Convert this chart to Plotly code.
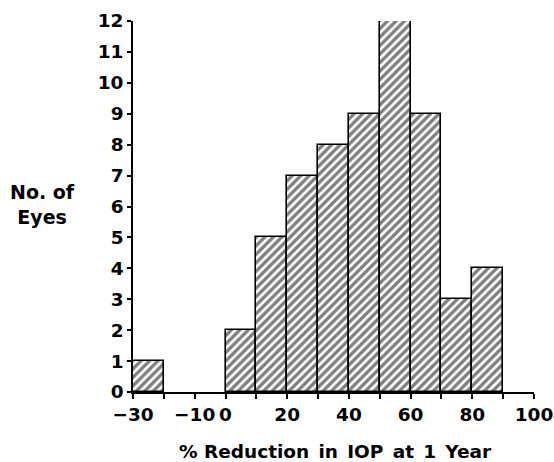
import plotly.graph_objects as go

bin_left = [-30, -20, -10, 0, 10, 20, 30, 40, 50, 60, 70, 80]
counts = [1, 0, 0, 2, 5, 7, 8, 9, 12, 9, 3, 4]
bin_width = 10
x_tick_vals = [-30, -20, -10, 0, 10, 20, 30, 40, 50, 60, 70, 80, 90, 100]
x_tick_text = ["\u221230", "", "\u221210", "0", "", "20", "", "40", "", "60", "", "80", "", "100"]
y_tick_vals = list(range(0, 13))
x_title = "% Reduction\u2002in\u2002IOP\u2002at\u20021\u2002Year"
y_title = "No. of<br>Eyes"

keep = [(b + bin_width / 2, c) for b, c in zip(bin_left, counts) if c > 0]

FONT = "DejaVu Sans"

fig = go.Figure()
fig.add_trace(go.Bar(
    x=[k[0] for k in keep],
    y=[k[1] for k in keep],
    width=bin_width,
    cliponaxis=False,
    marker=dict(
        color="white",
        line=dict(color="black", width=1.6),
        pattern=dict(shape="/", size=6, solidity=0.55, fgcolor="black", bgcolor="white"),
    ),
    showlegend=False,
))

fig.update_layout(
    width=554, height=462,
    margin=dict(l=133, r=20, t=21, b=70),
    paper_bgcolor="white", plot_bgcolor="white",
    bargap=0,
    font=dict(family=FONT, color="black", size=18.5),
    xaxis=dict(
        range=[-30, 100], tickvals=x_tick_vals, ticktext=x_tick_text,
        ticks="outside", ticklen=5, tickwidth=1.5, tickcolor="black",
        showline=True, linecolor="black", linewidth=1.6,
        showgrid=False, zeroline=False, automargin=False,
        tickfont=dict(family=FONT, size=18.5, color="black", weight="bold"),
    ),
    yaxis=dict(
        range=[0, 12], tickvals=y_tick_vals,
        ticks="outside", ticklen=4, tickwidth=1.5, tickcolor="black",
        showline=True, linecolor="black", linewidth=1.6,
        showgrid=False, zeroline=False, automargin=False,
        tickfont=dict(family=FONT, size=18.5, color="black", weight="bold"),
    ),
    annotations=[
        dict(
            text="<b>" + y_title + "</b>", xref="paper", yref="y",
            x=-0.2257, y=6.08, xanchor="center", yanchor="middle", showarrow=False,
            align="center", font=dict(family=FONT, size=19, color="black"),
        ),
        dict(
            text="<b>" + x_title + "</b>", xref="paper", yref="paper",
            x=0.505, y=-0.1617, xanchor="center", yanchor="middle", showarrow=False,
            font=dict(family=FONT, size=18.5, color="black"),
        ),
    ],
)

fig.write_html(
    "out.html",
    config={"displayModeBar": False},
    post_script="document.body.style.margin='0';document.body.style.overflow='hidden';",
)
